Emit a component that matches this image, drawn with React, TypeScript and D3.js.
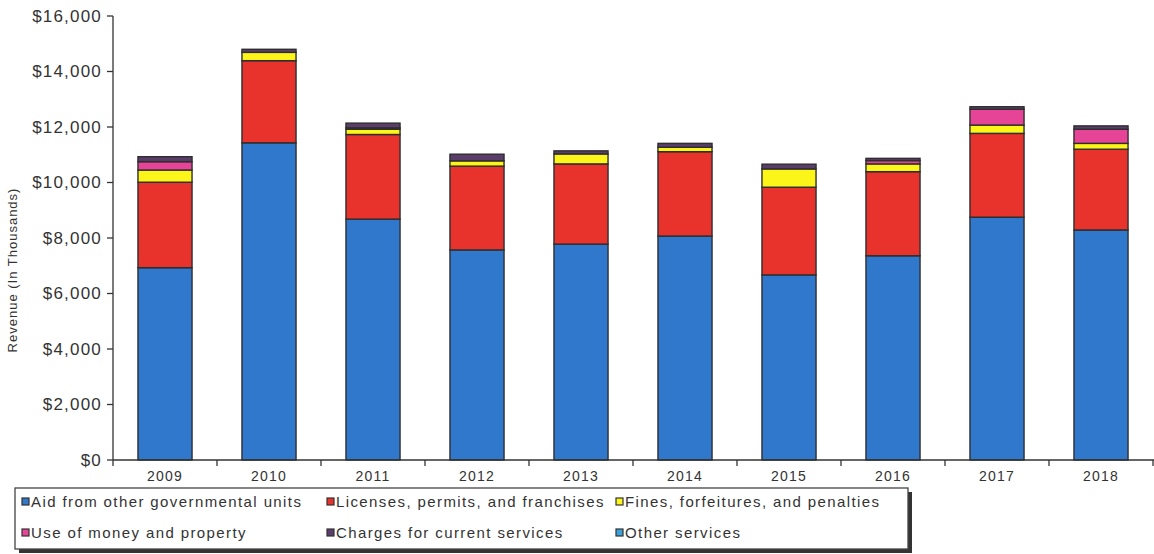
import React from "react";
import * as d3 from "d3";

const years = ["2009", "2010", "2011", "2012", "2013", "2014", "2015", "2016", "2017", "2018"];
const aidFromGov = [6930, 11430, 8680, 7570, 7780, 8070, 6670, 7360, 8750, 8290];
const licenses = [3080, 2960, 3050, 3020, 2890, 3040, 3160, 3030, 3020, 2910];
const fines = [440, 300, 190, 190, 360, 160, 660, 280, 300, 210];
const useOfMoney = [300, 0, 50, 0, 0, 0, 0, 120, 570, 510];
const charges = [180, 110, 170, 240, 110, 140, 170, 80, 90, 120];
const otherServices = [0, 0, 0, 0, 0, 0, 0, 0, 0, 0];

const seriesNames = [
  "Aid from other governmental units",
  "Licenses, permits, and franchises",
  "Fines, forfeitures, and penalties",
  "Use of money and property",
  "Charges for current services",
  "Other services",
];
const seriesColors = ["#2f78cc", "#e8322c", "#fbf51a", "#e64597", "#5a3d6a", "#3aa2da"];
const yTicks = [0, 2000, 4000, 6000, 8000, 10000, 12000, 14000, 16000];

const W = 1154;
const H = 554;

export default function App() {
  const keys = ["aid", "lic", "fin", "use", "chg", "oth"];
  const seriesArrays = [aidFromGov, licenses, fines, useOfMoney, charges, otherServices];
  const rows = years.map((y, i) => {
    const r: any = { year: y };
    keys.forEach((k, j) => (r[k] = seriesArrays[j][i]));
    return r;
  });
  const stacked = d3.stack().keys(keys)(rows);

  const x = d3.scaleBand().domain(years).range([113, 1153]).paddingInner(0.48).paddingOuter(0.24);
  const y = d3.scaleLinear().domain([0, 16000]).range([460, 16]);
  const fmt = (v: number) => "$" + d3.format(",")(v);
  const step = x.step();
  const x0 = 113;

  const font = "'Liberation Sans', Arial, sans-serif";
  const legendCols = [22, 327, 616];
  const legendRows = [507, 538];

  return (
    <svg width={W} height={H} style={{ position: "absolute", left: 0, top: 0, background: "#fff" }}>
      {/* bars */}
      {stacked.map((s, si) => (
        <g key={si}>
          {s.map((d, i) => {
            const h = y(d[0]) - y(d[1]);
            if (h <= 0) return null;
            return (
              <rect
                key={i}
                x={x(years[i])}
                y={y(d[1])}
                width={x.bandwidth()}
                height={h}
                fill={seriesColors[si]}
                stroke="#2e2e2e"
                strokeWidth={1.4}
              />
            );
          })}
        </g>
      ))}

      {/* y axis */}
      <line x1={x0} x2={x0} y1={y(16000)} y2={y(0)} stroke="#333" strokeWidth={1.3} />
      {yTicks.map((t) => (
        <g key={t}>
          <line x1={x0 - 6} x2={x0} y1={y(t)} y2={y(t)} stroke="#333" strokeWidth={1.3} />
          <text
            x={102}
            y={y(t)}
            dy="0.35em"
            textAnchor="end"
            fontFamily={font}
            fontSize={17}
            letterSpacing={1.2}
            fill="#333"
          >
            {fmt(t)}
          </text>
        </g>
      ))}
      <text
        transform={`translate(17,${(y(0) + y(16000)) / 2 + 32}) rotate(-90)`}
        textAnchor="middle"
        fontFamily={font}
        fontSize={13}
        letterSpacing={1}
        fill="#333"
      >
        Revenue  (In Thousands)
      </text>

      {/* x axis */}
      <line x1={x0} x2={W} y1={y(0)} y2={y(0)} stroke="#333" strokeWidth={1.3} />
      {d3.range(years.length + 1).map((i) => (
        <line key={i} x1={x0 + i * step} x2={x0 + i * step} y1={y(0)} y2={y(0) + 6} stroke="#333" strokeWidth={1.3} />
      ))}
      {years.map((yr) => (
        <text
          key={yr}
          x={(x(yr) as number) + x.bandwidth() / 2}
          y={481}
          textAnchor="middle"
          fontFamily={font}
          fontSize={14}
          letterSpacing={1.2}
          fill="#333"
        >
          {yr}
        </text>
      ))}

      {/* legend */}
      <rect x={19} y={492} width={893} height={61} fill="#333" />
      <rect x={15} y={488} width={893} height={61} fill="#fff" stroke="#444" strokeWidth={1.3} />
      {seriesNames.map((name, i) => {
        const cx = legendCols[i % 3];
        const cy = legendRows[Math.floor(i / 3)];
        return (
          <g key={name}>
            <rect x={cx} y={cy - 9} width={7} height={7} fill={seriesColors[i]} stroke="#333" strokeWidth={1.2} />
            <text x={cx + 9} y={cy} fontFamily={font} fontSize={15} letterSpacing={1.4} fill="#333">
              {name}
            </text>
          </g>
        );
      })}
    </svg>
  );
}
